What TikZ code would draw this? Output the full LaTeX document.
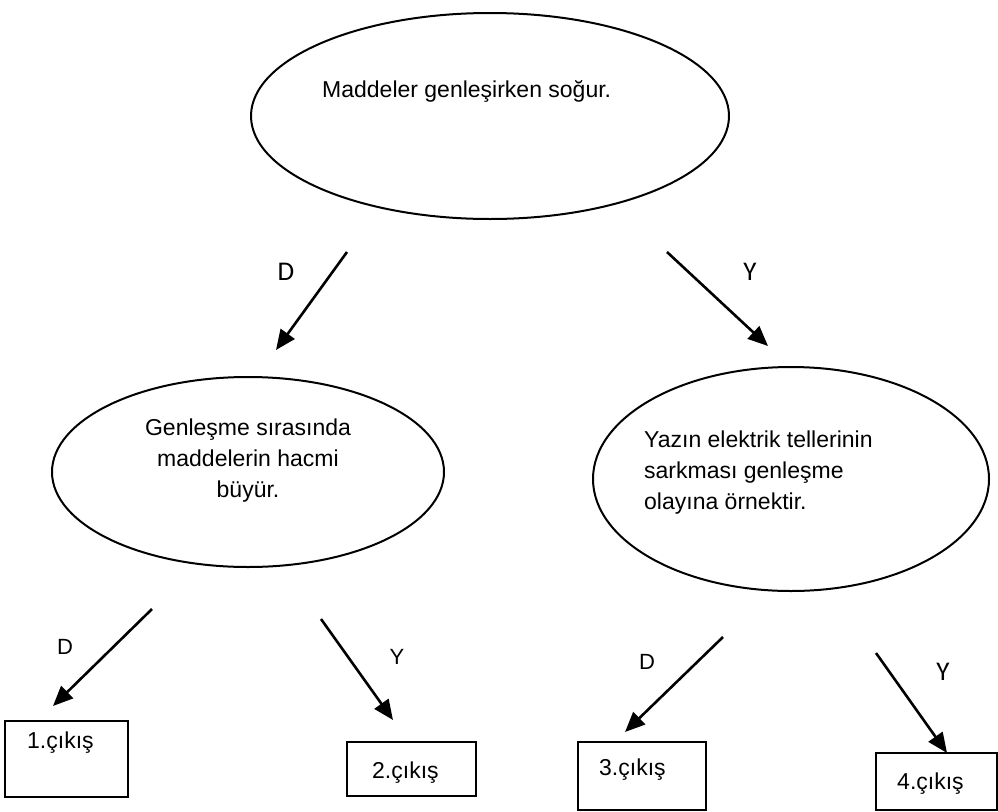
\documentclass[tikz,border=0pt]{standalone}
\usepackage{fontspec}
\setmainfont{Liberation Sans}
\newfontfamily\answerfont{Carlito}
\usetikzlibrary{arrows.meta,shapes.geometric}
\begin{document}
\begin{tikzpicture}[x=1pt,y=-1pt,
  bubble/.style={draw,line width=2pt,ellipse,inner sep=0pt},
  outbox/.style={draw,line width=2pt,rectangle,inner sep=0pt},
  branch/.style={line width=2.6pt,-{Triangle[length=20pt,width=17pt]}},
  txt/.style={inner sep=0pt,font=\fontsize{23}{31}\selectfont},
  yn/.style={inner sep=0pt,font=\answerfont\fontsize{27}{30}\selectfont},
  ynsmall/.style={inner sep=0pt,font=\fontsize{22}{26}\selectfont}]
\useasboundingbox (0,0) rectangle (998,811);

% question bubbles (multi-line text is anchored on its last baseline)
\node[bubble,minimum width=478pt,minimum height=206pt] (q1) at (490,116) {};
\node[txt,anchor=base west] (q1t) at (322,97) {Maddeler genleşirken soğur.};

\node[bubble,minimum width=392pt,minimum height=190pt] (q2) at (248,472) {};
\node[txt,anchor=base,align=center] (q2t) at (248,497)
  {Genleşme sırasında\\maddelerin hacmi\\büyür.};

\node[bubble,minimum width=396pt,minimum height=224pt] (q3) at (791,479) {};
\node[txt,anchor=base west,align=left] (q3t) at (644,509)
  {Yazın elektrik tellerinin\\sarkması genleşme\\olayına örnektir.};

% exit boxes
\node[outbox,minimum width=123pt,minimum height=76pt] (e1) at (66.5,759) {};
\node[txt,anchor=base west] (e1t) at (27,748) {1.çıkış};
\node[outbox,minimum width=129pt,minimum height=54pt] (e2) at (411.5,769) {};
\node[txt,anchor=base west] (e2t) at (372,778) {2.çıkış};
\node[outbox,minimum width=128pt,minimum height=68pt] (e3) at (642,776) {};
\node[txt,anchor=base west] (e3t) at (599,775) {3.çıkış};
\node[outbox,minimum width=121pt,minimum height=57pt] (e4) at (936.5,781.5) {};
\node[txt,anchor=base west] (e4t) at (897,789) {4.çıkış};

% arrow end points
\coordinate (a1s) at (347,252); \coordinate (a1e) at (276,350);
\coordinate (a2s) at (667,252); \coordinate (a2e) at (768,346);
\coordinate (a3s) at (152,609); \coordinate (a3e) at (53,706);
\coordinate (a4s) at (321,619); \coordinate (a4e) at (393,720);
\coordinate (a5s) at (723,637); \coordinate (a5e) at (625,732);
\coordinate (a6s) at (876,653); \coordinate (a6e) at (947,753);

\draw[branch] (a1s) -- (a1e);
\draw[branch] (a2s) -- (a2e);
\draw[branch] (a3s) -- (a3e);
\draw[branch] (a4s) -- (a4e);
\draw[branch] (a5s) -- (a5e);
\draw[branch] (a6s) -- (a6e);

% answer labels
\node[yn] (l1) at (286,272) {D};
\node[yn] (l2) at (750,272) {Y};
\node[ynsmall] (l3) at (65,647) {D};
\node[ynsmall] (l4) at (397,657) {Y};
\node[ynsmall] (l5) at (647,662) {D};
\node[yn] (l6) at (943,672) {Y};
\end{tikzpicture}
\end{document}
